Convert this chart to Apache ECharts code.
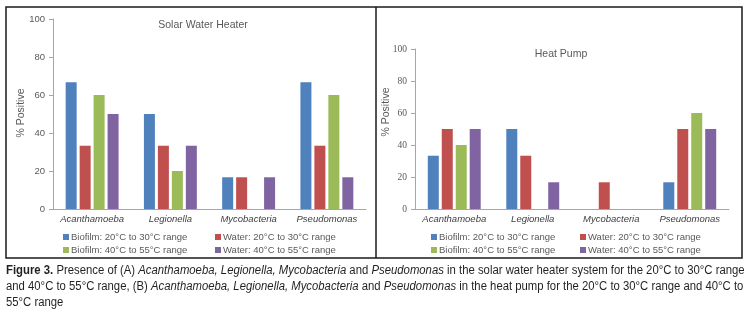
<!DOCTYPE html>
<html><head><meta charset="utf-8">
<script src="https://cdn.jsdelivr.net/npm/echarts@6/dist/echarts.min.js"></script>
<style>
html,body{margin:0;padding:0;background:#fff;overflow:hidden;}
#chart{position:absolute;left:0;top:0;width:753px;height:313px;}
.cl{position:absolute;left:6px;font-family:"Liberation Sans",Arial,sans-serif;font-size:12.5px;line-height:16px;color:#231f20;white-space:nowrap;transform-origin:0 0;}
</style></head>
<body>
<div id="chart"></div>
<div class="cl" id="c1" style="top:262px"><b>Figure 3.</b> Presence of (A) <i>Acanthamoeba, Legionella, Mycobacteria</i> and <i>Pseudomonas</i> in the solar water heater system for the 20°C to 30°C range</div>
<div class="cl" id="c2" style="top:278px">and 40°C to 55°C range, (B) <i>Acanthamoeba, Legionella, Mycobacteria</i> and <i>Pseudomonas</i> in the heat pump for the 20°C to 30°C range and 40°C to</div>
<div class="cl" id="c3" style="top:294px">55°C range</div>
<script>
const categories = ['Acanthamoeba', 'Legionella', 'Mycobacteria', 'Pseudomonas'];
const seriesNames = ['Biofilm: 20°C to 30°C range', 'Water: 20°C to 30°C range', 'Biofilm: 40°C to 55°C range', 'Water: 40°C to 55°C range'];
const colors = ['#4F81BD', '#C0504D', '#9BBB59', '#8064A2'];
const chartTitles = ['Solar Water Heater', 'Heat Pump'];
const yAxisName = '% Positive';
const yMin = 0, yMax = 100, yInterval = 20;

// Solar water heater (A)
const solarBiofilm20 = [66.7, 50, 16.7, 66.7];
const solarWater20   = [33.3, 33.3, 16.7, 33.3];
const solarBiofilm40 = [60, 20, 0, 60];
const solarWater40   = [50, 33.3, 16.7, 16.7];
// Heat pump (B)
const pumpBiofilm20 = [33.3, 50, 0, 16.7];
const pumpWater20   = [50, 33.3, 16.7, 50];
const pumpBiofilm40 = [40, 0, 0, 60];
const pumpWater40   = [50, 16.7, 0, 50];

const solarData = [solarBiofilm20, solarWater20, solarBiofilm40, solarWater40];
const pumpData = [pumpBiofilm20, pumpWater20, pumpBiofilm40, pumpWater40];

// fit caption lines to the reference widths (condensed face)
(function () {
  const c1 = document.getElementById('c1'), c2 = document.getElementById('c2'), c3 = document.getElementById('c3');
  const s1 = 739 / c1.scrollWidth, s2 = 737 / c2.scrollWidth;
  c1.style.transform = 'scaleX(' + s1 + ')';
  c2.style.transform = 'scaleX(' + s2 + ')';
  c3.style.transform = 'scaleX(' + s2 + ')';
})();

const chart = echarts.init(document.getElementById('chart'), null, {renderer: 'canvas'});
const axisColor = '#a6a6a6';
const sans = 'Liberation Sans';

function xAx(gi) {
  return {
    type: 'category', gridIndex: gi, data: categories,
    axisLine: {lineStyle: {color: axisColor, width: 1}},
    axisTick: {show: false},
    axisLabel: {interval: 0, fontStyle: 'italic', fontSize: 9.5, color: '#404040', fontFamily: sans, margin: 5}
  };
}
function yAx(gi, font) {
  return {
    type: 'value', gridIndex: gi, min: yMin, max: yMax, interval: yInterval,
    splitLine: {show: false},
    axisLine: {show: true, lineStyle: {color: axisColor, width: 1}},
    axisTick: {show: true, length: 4, lineStyle: {color: axisColor}},
    axisLabel: {fontSize: 9.5, color: '#595959', fontFamily: font, margin: 8}
  };
}

const series = [];
[solarData, pumpData].forEach((set, gi) => {
  set.forEach((vals, i) => {
    series.push({
      name: seriesNames[i], type: 'bar', xAxisIndex: gi, yAxisIndex: gi,
      data: vals, barWidth: 11, barGap: '27%',
      itemStyle: {color: colors[i]}, emphasis: {disabled: true}
    });
  });
});

const legendPos = [
  [[63, 232], [215, 232], [63, 245], [215, 245]],
  [[431, 232], [580, 232], [431, 245], [580, 245]]
];
const legends = [];
legendPos.forEach(p => {
  p.forEach((xy, i) => {
    legends.push({
      data: [seriesNames[i]], left: xy[0], top: xy[1], padding: 0,
      itemWidth: 6, itemHeight: 6, icon: 'rect', selectedMode: false,
      textStyle: {fontSize: 9.5, color: '#595959', fontFamily: sans, padding: [0, 0, 0, -3]}
    });
  });
});

chart.setOption({
  animation: false,
  color: colors,
  grid: [
    {left: 53, top: 19, width: 313, height: 190},
    {left: 415, top: 49, width: 314, height: 160}
  ],
  xAxis: [xAx(0), xAx(1)],
  yAxis: [yAx(0, sans), yAx(1, 'Liberation Serif')],
  legend: legends,
  series: series,
  graphic: [
    {type: 'rect', shape: {x: 6, y: 7, width: 736, height: 251}, style: {fill: 'none', stroke: '#1a1a1a', lineWidth: 1.5}, silent: true},
    {type: 'line', shape: {x1: 376, y1: 7, x2: 376, y2: 258}, style: {stroke: '#1a1a1a', lineWidth: 1.5}, silent: true},
    {type: 'text', x: 203, y: 25, style: {text: chartTitles[0], fill: '#595959', font: '10.5px "Liberation Sans"', textAlign: 'center', textVerticalAlign: 'middle'}},
    {type: 'text', x: 561, y: 54, style: {text: chartTitles[1], fill: '#595959', font: '10.5px "Liberation Sans"', textAlign: 'center', textVerticalAlign: 'middle'}},
    {type: 'text', x: 21, y: 113, rotation: Math.PI / 2, style: {text: yAxisName, fill: '#595959', font: '10.5px "Liberation Sans"', textAlign: 'center', textVerticalAlign: 'middle'}},
    {type: 'text', x: 386, y: 112, rotation: Math.PI / 2, style: {text: yAxisName, fill: '#595959', font: '10.5px "Liberation Sans"', textAlign: 'center', textVerticalAlign: 'middle'}}
  ]
});
</script>
</body></html>
